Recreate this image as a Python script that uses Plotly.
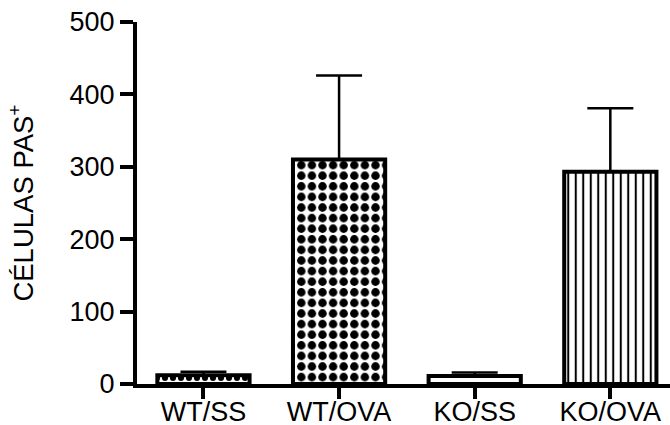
import plotly.graph_objects as go

categories = ["WT/SS", "WT/OVA", "KO/SS", "KO/OVA"]
means = [12, 310, 11, 293]
errors_up = [5, 116, 5, 88]
patterns = [".", ".", "", "|"]
y_ticks = [0, 100, 200, 300, 400, 500]

FONT = "Liberation Sans, Arial, sans-serif"

fig = go.Figure()
fig.add_trace(go.Bar(
    x=categories,
    y=means,
    width=0.68,
    marker=dict(
        color="white",
        line=dict(color="black", width=4),
        pattern=dict(
            shape=patterns,
            fgcolor="black",
            bgcolor="white",
            fgopacity=1,
            size=[8, 10.6, 8, 7.5],
            solidity=[0.45, 0.5, 0.3, 0.27],
            fillmode="overlay",
        ),
    ),
    error_y=dict(
        type="data",
        symmetric=False,
        array=errors_up,
        arrayminus=[0] * len(errors_up),
        color="black",
        thickness=2.5,
        width=23,
    ),
))

fig.update_layout(
    width=670,
    height=425,
    margin=dict(l=137, r=0, t=22, b=41),
    plot_bgcolor="white",
    paper_bgcolor="white",
    showlegend=False,
    font=dict(family=FONT, color="black", size=26),
    xaxis=dict(
        type="category",
        range=[-0.49, 3.44],
        automargin=False,
        showline=True,
        linecolor="black",
        linewidth=4,
        ticks="outside",
        ticklen=11,
        tickwidth=4,
        tickcolor="black",
        tickfont=dict(size=27),
        ticklabelstandoff=-10,
        showgrid=False,
        zeroline=False,
    ),
    yaxis=dict(
        range=[0, 500],
        tickvals=y_ticks,
        automargin=False,
        showline=True,
        linecolor="black",
        linewidth=4,
        ticks="outside",
        ticklen=13,
        tickwidth=4,
        tickcolor="black",
        tickfont=dict(size=27),
        showgrid=False,
        zeroline=False,
        title=dict(text="CÉLULAS PAS<sup>+</sup>", font=dict(size=27.5), standoff=29),
    ),
)

fig.write_html("out.html")
